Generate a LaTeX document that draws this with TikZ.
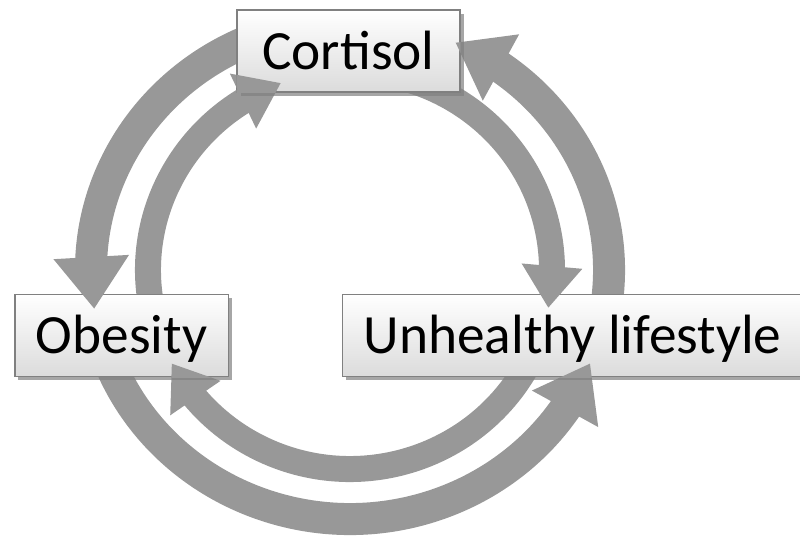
\documentclass[tikz,border=0pt]{standalone}
\usepackage{fontspec}
\setmainfont{Carlito}
\usetikzlibrary{arrows.meta,bending,shadows}
\definecolor{ringgrey}{RGB}{152,152,152}

\begin{document}
\begin{tikzpicture}[
    outerarc/.style={draw=ringgrey, line width=0.64cm, -{Triangle[width=1.44cm,length=1.04cm,flex]}},
    innerarc/.style={draw=ringgrey, line width=0.52cm, -{Triangle[width=1.16cm,length=0.84cm,flex]}},
    factor/.style={draw=black!50, line width=0.7pt, top color=white, bottom color=black!14,
      drop shadow={shadow xshift=2pt, shadow yshift=-2pt, opacity=0.7},
      minimum height=1.64cm, inner xsep=0.42cm, text height=0.74cm, text depth=0cm,
      font=\fontsize{31.5}{36}\selectfont}]
  \useasboundingbox (0,0) rectangle (16,10.74);
  \coordinate (ctr) at (7,5.34);
  % start points of the rings, under the boxes
  \path (ctr) ++(105:5.18 and 4.98) coordinate (o1)
        (ctr) ++(-20:5.18 and 4.98) coordinate (o2)
        (ctr) ++(200:5.18 and 4.98) coordinate (o3)
        (ctr) ++(195:4.04 and 3.98) coordinate (i1)
        (ctr) ++(80:4.04 and 3.98) coordinate (i2)
        (ctr) ++(-24:4.04 and 3.98) coordinate (i3);
  \draw[outerarc] (o1) arc[start angle=105, end angle=189, x radius=5.18, y radius=4.98];
  \draw[outerarc] (o2) arc[start angle=-20, end angle=66, x radius=5.18, y radius=4.98];
  \draw[outerarc] (o3) arc[start angle=200, end angle=338, x radius=5.18, y radius=4.98];
  \draw[innerarc] (i1) arc[start angle=195, end angle=110, x radius=4.04, y radius=3.98];
  \draw[innerarc] (i2) arc[start angle=80, end angle=-11, x radius=4.04, y radius=3.98];
  \draw[innerarc] (i3) arc[start angle=-24, end angle=-152, x radius=4.04, y radius=3.98];

  \node[factor, minimum width=4.46cm] (cortisol) at (6.97,9.72) {Cortisol};
  \node[factor, minimum width=4.26cm] (obesity) at (2.43,4.03) {Obesity};
  \node[factor, anchor=west] (lifestyle) at (6.84,4.03) {Unhealthy lifestyle};

  % heads again, over the box they point at
  \begin{scope}
    \clip (obesity.south west) rectangle (obesity.north east);
    \draw[outerarc] (o1) arc[start angle=105, end angle=189, x radius=5.18, y radius=4.98];
    \draw[innerarc] (i3) arc[start angle=-24, end angle=-152, x radius=4.04, y radius=3.98];
  \end{scope}
  \begin{scope}
    \clip (cortisol.south west) rectangle (cortisol.north east);
    \draw[outerarc] (o2) arc[start angle=-20, end angle=66, x radius=5.18, y radius=4.98];
    \draw[innerarc] (i1) arc[start angle=195, end angle=110, x radius=4.04, y radius=3.98];
  \end{scope}
  \begin{scope}
    \clip (lifestyle.south west) rectangle (lifestyle.north east);
    \draw[outerarc] (o3) arc[start angle=200, end angle=338, x radius=5.18, y radius=4.98];
    \draw[innerarc] (i2) arc[start angle=80, end angle=-11, x radius=4.04, y radius=3.98];
  \end{scope}
\end{tikzpicture}
\end{document}
